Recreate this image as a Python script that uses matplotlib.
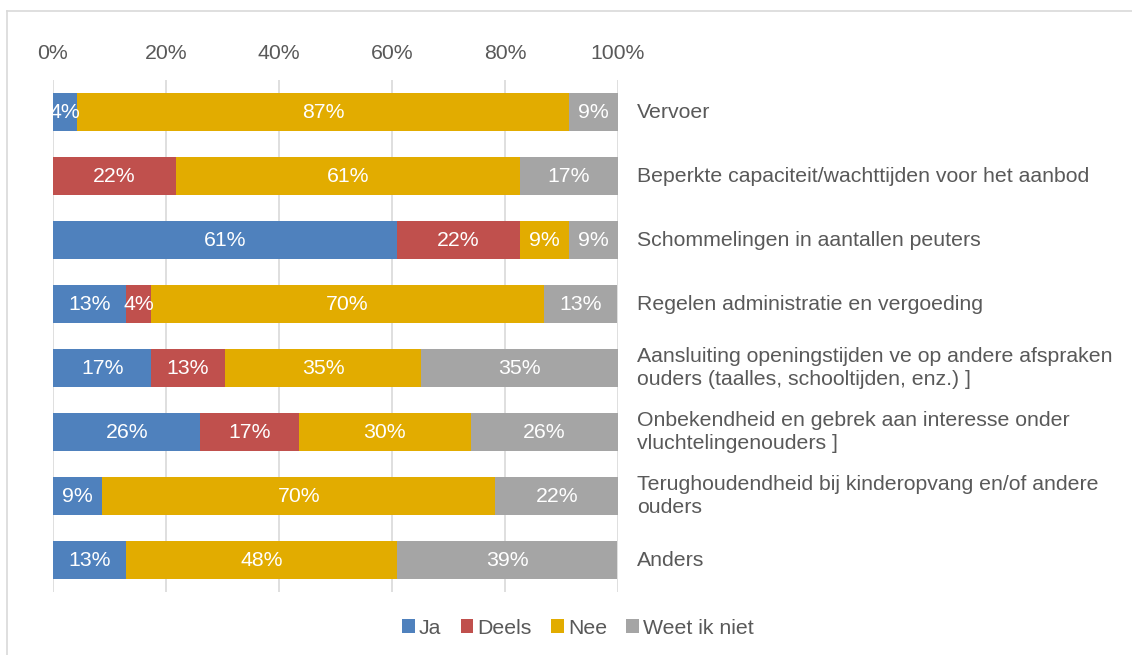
import matplotlib
matplotlib.use("Agg")
import matplotlib.pyplot as plt
from matplotlib.lines import Line2D
import matplotlib.transforms as mtransforms
import numpy as np

plt.rcParams['font.family'] = ['Liberation Sans', 'DejaVu Sans']

categories = [
    "Vervoer",
    "Beperkte capaciteit/wachttijden voor het aanbod",
    "Schommelingen in aantallen peuters",
    "Regelen administratie en vergoeding",
    "Aansluiting openingstijden ve op andere afspraken\nouders (taalles, schooltijden, enz.) ]",
    "Onbekendheid en gebrek aan interesse onder\nvluchtelingenouders ]",
    "Terughoudendheid bij kinderopvang en/of andere\nouders",
    "Anders",
]
series_names = ["Ja", "Deels", "Nee", "Weet ik niet"]
ja = [4.3, 0.0, 60.9, 13.0, 17.4, 26.1, 8.7, 13.0]
deels = [0.0, 21.7, 21.7, 4.3, 13.0, 17.4, 0.0, 0.0]
nee = [87.0, 60.9, 8.7, 69.6, 34.8, 30.4, 69.6, 47.8]
weet = [8.7, 17.4, 8.7, 13.0, 34.8, 26.1, 21.7, 39.1]
colors = ["#4F81BD", "#C0504D", "#E2AC00", "#A5A5A5"]
ticks = [0, 20, 40, 60, 80, 100]
tick_labels = ["0%", "20%", "40%", "60%", "80%", "100%"]

W, H = 1132, 655
fig = plt.figure(figsize=(W / 100, H / 100), dpi=100)
ax = fig.add_axes([53 / W, (H - 592) / H, 565 / W, 512 / H])

txt_color = "#595959"
fs = 15.3
y = np.arange(len(categories))
left = np.zeros(len(categories))
for name, vals, c in zip(series_names, [ja, deels, nee, weet], colors):
    vals = np.array(vals)
    ax.barh(y, vals, left=left, height=0.59, color=c, label=name, zorder=3)
    for yi, l, v in zip(y, left, vals):
        if v > 0:
            ax.text(l + v / 2, yi, f"{v:.0f}%", ha="center", va="center",
                    color="white", fontsize=fs, zorder=4)
    left += vals

ax.set_xlim(0, 100)
ax.set_ylim(len(categories) - 0.5, -0.5)
ax.set_xticks(ticks)
ax.set_xticklabels(tick_labels)
ax.xaxis.tick_top()
ax.tick_params(axis="x", length=0, pad=12, labelsize=fs, labelcolor=txt_color)
ax.set_yticks([])
for s in ax.spines.values():
    s.set_visible(False)
ax.grid(axis="x", color="#D9D9D9", linewidth=1.2, zorder=0)

trans = mtransforms.blended_transform_factory(fig.transFigure, ax.transData)
for yi, cat in zip(y, categories):
    ax.text(637 / W, yi, cat, transform=trans, ha="left", va="center",
            fontsize=fs, color=txt_color, linespacing=1.25)

leg = fig.legend(loc="center", bbox_to_anchor=(578 / W, 1 - 628 / H), ncol=4,
                 frameon=False, fontsize=fs, handlelength=0.6, handleheight=0.6,
                 handletextpad=0.2, columnspacing=0.9)
for t in leg.get_texts():
    t.set_color(txt_color)

fig.add_artist(Line2D([7 / W, 7 / W], [0, 1 - 11 / H], transform=fig.transFigure,
                      color="#D9D9D9", linewidth=1.2))
fig.add_artist(Line2D([7 / W, 1], [1 - 11 / H, 1 - 11 / H], transform=fig.transFigure,
                      color="#D9D9D9", linewidth=1.2))

fig.savefig("out.png", dpi=100)
